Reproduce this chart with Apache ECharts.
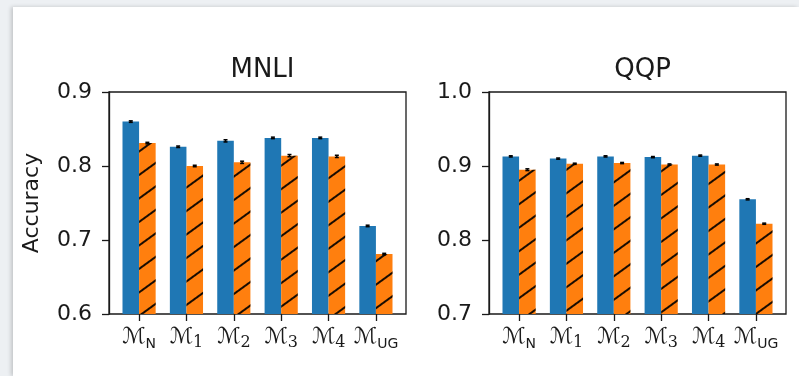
<!DOCTYPE html>
<html><head><meta charset="utf-8">
<script src="https://cdn.jsdelivr.net/npm/echarts@6/dist/echarts.min.js"></script>
<style>
html,body{margin:0;padding:0;background:#edf0f3;width:799px;height:376px;overflow:hidden}
#card{position:absolute;left:13px;top:7px;width:786px;height:369px;background:#fff;box-shadow:-2px 0 4px rgba(0,0,0,0.18)}
#c{width:786px;height:369px}
</style></head><body>
<div id="card"><div id="c"></div></div>
<script>
const categories = ['N','1','2','3','4','UG'];
const mnliTitle = 'MNLI';
const qqpTitle = 'QQP';
const mnliBlue = [0.860, 0.826, 0.834, 0.838, 0.838, 0.719];
const mnliOrange = [0.831, 0.800, 0.805, 0.814, 0.813, 0.681];
const mnliBlueErr = [0.001, 0.001, 0.0015, 0.001, 0.001, 0.001];
const mnliOrangeErr = [0.001, 0.001, 0.0015, 0.0015, 0.0015, 0.001];
const qqpBlue = [0.913, 0.910, 0.913, 0.912, 0.914, 0.855];
const qqpOrange = [0.895, 0.903, 0.904, 0.902, 0.902, 0.822];
const qqpBlueErr = [0.0008, 0.0008, 0.0008, 0.0008, 0.0008, 0.0008];
const qqpOrangeErr = [0.0012, 0.0008, 0.0008, 0.0008, 0.0008, 0.0008];
const mnliTicks = {min: 0.6, max: 0.9, interval: 0.1};
const qqpTicks = {min: 0.7, max: 1.0, interval: 0.1};
const yName = 'Accuracy';

const BLUE = '#1f77b4', ORANGE = '#ff7f0e', INK = '#1a1a1a';
const FONT = 'DejaVu Sans';
const FW = 297, FH = 222, TOP = 85;
const UNIT = FW / 6.27, PAD = 0.135 * UNIT;
const panels = [
  {left: 96, title: mnliTitle, ticks: mnliTicks, blue: mnliBlue, orange: mnliOrange, be: mnliBlueErr, oe: mnliOrangeErr, name: yName},
  {left: 476, title: qqpTitle, ticks: qqpTicks, blue: qqpBlue, orange: qqpOrange, be: qqpBlueErr, oe: qqpOrangeErr, name: ''}
];

const grid = [], xAxis = [], yAxis = [], series = [], title = [];
panels.forEach((p, k) => {
  const gA = grid.length;
  grid.push({left: p.left, top: TOP, width: FW, height: FH, show: true, borderColor: INK, borderWidth: 1.3, backgroundColor: 'transparent'});
  grid.push({left: p.left + PAD, top: TOP, width: FW - 2 * PAD, height: FH});
  title.push({text: p.title, left: p.left + FW / 2, top: 45, textAlign: 'center',
    textStyle: {fontFamily: FONT, fontSize: 26, fontWeight: 'normal', color: INK}});
  const xa = xAxis.length;
  xAxis.push({gridIndex: gA, type: 'value', min: 0, max: 1, show: false});
  xAxis.push({gridIndex: gA + 1, type: 'category', data: categories,
    axisLine: {show: false},
    axisTick: {show: true, alignWithLabel: true, length: 7, lineStyle: {color: INK, width: 1.3}},
    axisLabel: {margin: 12, interval: 0,
      formatter: v => '{m|\u2133}' + (/^\d$/.test(v) ? '{d|' + v + '}' : '{s|' + v + '}'),
      rich: {
        m: {fontFamily: 'DejaVu Sans', fontSize: 22, color: INK, verticalAlign: 'bottom'},
        d: {fontFamily: 'DejaVu Serif', fontSize: 16, color: INK, verticalAlign: 'bottom', padding: [0, 0, -3, 0]},
        s: {fontFamily: FONT, fontSize: 14, color: INK, verticalAlign: 'bottom', padding: [0, 0, -3, 0]}
      }}});
  const ya = yAxis.length;
  yAxis.push({gridIndex: gA, type: 'value', min: p.ticks.min, max: p.ticks.max, interval: p.ticks.interval,
    name: p.name, nameLocation: 'middle', nameGap: 66, nameRotate: 90,
    nameTextStyle: {fontFamily: FONT, fontSize: 22, color: INK},
    axisLine: {show: true, lineStyle: {color: INK, width: 1.3}},
    axisTick: {show: true, length: 7, lineStyle: {color: INK, width: 1.3}},
    splitLine: {show: false},
    axisLabel: {margin: 17, fontFamily: FONT, fontSize: 22, color: INK, formatter: v => v.toFixed(1)}});
  yAxis.push({gridIndex: gA + 1, type: 'value', min: p.ticks.min, max: p.ticks.max, show: false});
  series.push({type: 'bar', xAxisIndex: xa + 1, yAxisIndex: ya + 1, data: p.blue, barWidth: '35%', barGap: '0%',
    itemStyle: {color: BLUE}, silent: true, animation: false});
  series.push({type: 'bar', xAxisIndex: xa + 1, yAxisIndex: ya + 1, data: p.orange, barWidth: '35%', barGap: '0%',
    itemStyle: {color: ORANGE, decal: {symbol: 'rect', symbolSize: 1, color: 'rgba(0,0,0,0.9)',
      dashArrayX: [1, 0], dashArrayY: [2, 17], rotation: -Math.PI / 5}}, silent: true, animation: false});
  [[p.blue, p.be, -0.175], [p.orange, p.oe, 0.175]].forEach(([vals, errs, off]) => {
    series.push({type: 'custom', xAxisIndex: xa + 1, yAxisIndex: ya + 1, silent: true, animation: false, z: 5,
      data: vals.map((v, i) => [i, v, errs[i]]),
      renderItem: (params, api) => {
        const i = api.value(0), v = api.value(1), e = api.value(2);
        const band = api.size([1, 0])[0];
        const c = api.coord([i, v]);
        const x = c[0] + off * band;
        const yTop = api.coord([i, v + e])[1], yBot = api.coord([i, v - e])[1];
        const cw = 2;
        return {type: 'group', children: [
          {type: 'line', shape: {x1: x, y1: yTop, x2: x, y2: yBot}, style: {stroke: '#000', lineWidth: 1.5}},
          {type: 'line', shape: {x1: x - cw, y1: yTop, x2: x + cw, y2: yTop}, style: {stroke: '#000', lineWidth: 1.5}},
          {type: 'line', shape: {x1: x - cw, y1: yBot, x2: x + cw, y2: yBot}, style: {stroke: '#000', lineWidth: 1.5}}
        ]};
      }});
  });
});

const chart = echarts.init(document.getElementById('c'), null, {renderer: 'canvas'});
chart.setOption({animation: false, backgroundColor: '#fff', title, grid, xAxis, yAxis, series});
</script></body></html>
